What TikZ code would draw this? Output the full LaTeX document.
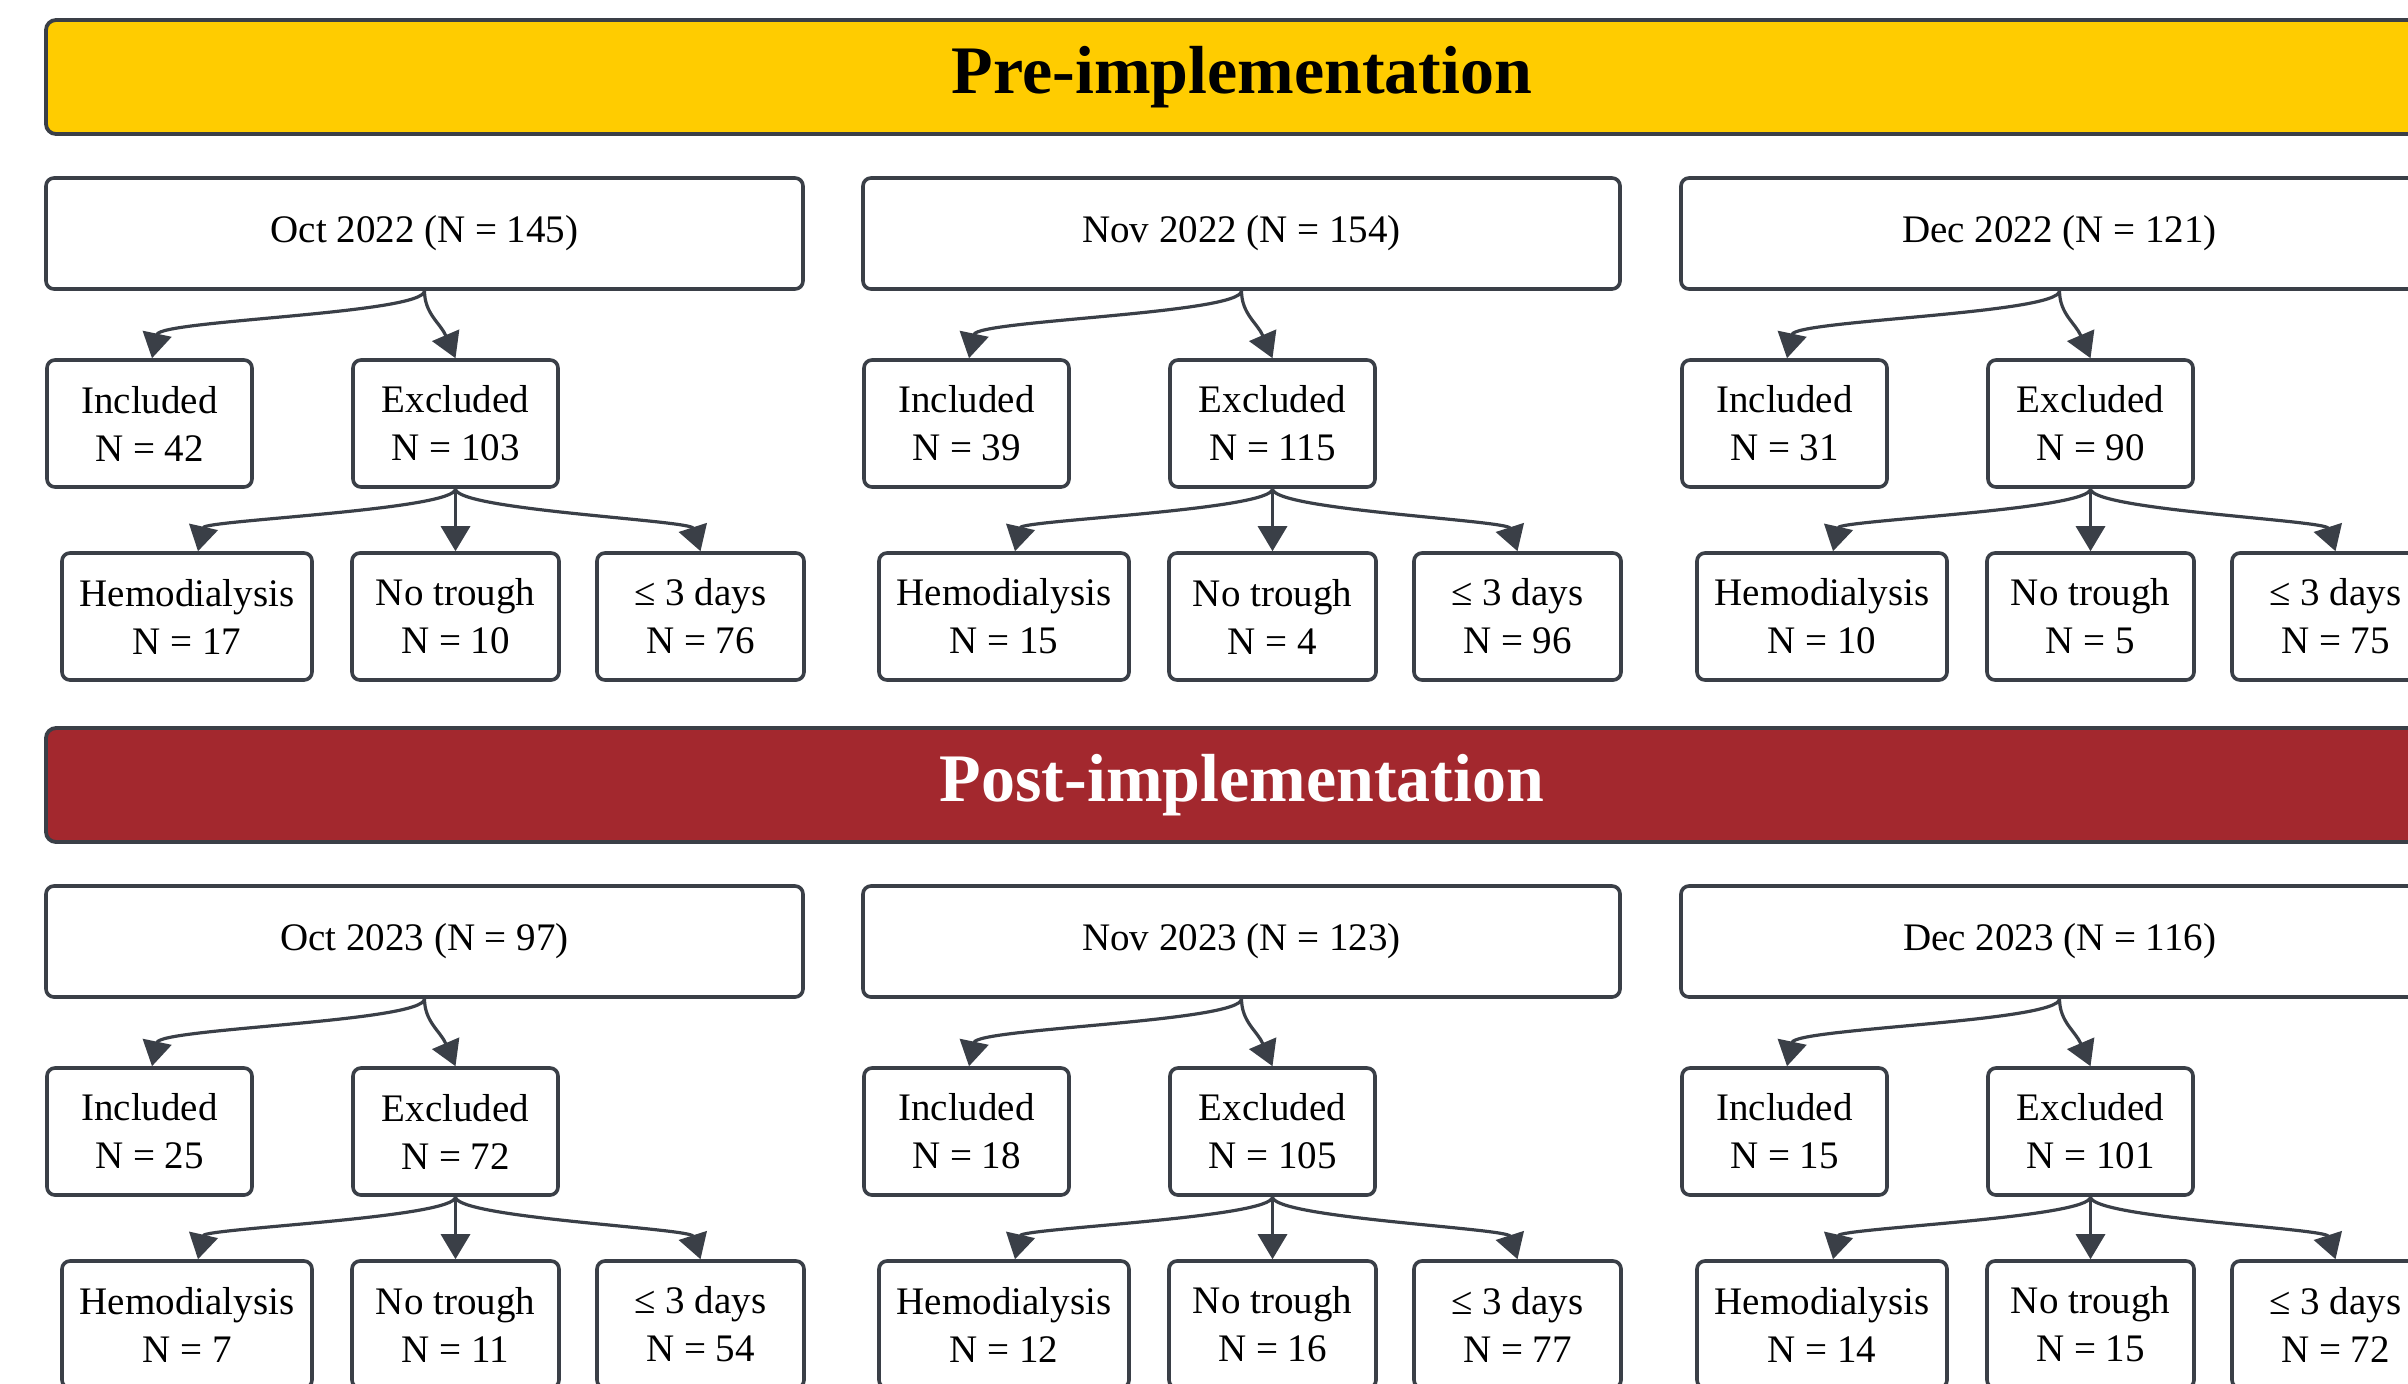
\documentclass[tikz,border=0pt]{standalone}
\usepackage{fontspec}
\setmainfont{Liberation Serif}
\usetikzlibrary{arrows.meta,calc}
\definecolor{edgecol}{HTML}{3A3F47}
\definecolor{preY}{HTML}{FFCC00}
\definecolor{postR}{HTML}{A3282E}
\tikzset{
  box/.style={draw=edgecol, line width=1.8pt, rounded corners=4pt, fill=white,
    align=center, inner sep=0pt, font=\fontsize{19.5}{24}\selectfont},
  monthbox/.style={box, minimum width=378.5pt, minimum height=55.5pt},
  smallbox/.style={box, minimum width=102.5pt, minimum height=63.5pt},
  widebox/.style={box, minimum width=125pt, minimum height=63.5pt},
  midbox/.style={box, minimum width=103.5pt, minimum height=63.5pt},
  bar/.style={draw=edgecol, line width=1.9pt, rounded corners=5pt,
    minimum width=1196pt, minimum height=57pt, inner sep=0pt,
    font=\fontsize{34}{38}\selectfont\bfseries},
  arr/.style={draw=edgecol, line width=1.6pt, -{Triangle[length=12.5pt,width=14.5pt]}}
}
\newcommand\flowcol[9]{%
  \begin{scope}[shift={(#2,#3)}]
    \node[monthbox] (#1m) at (424.5,233.5) {#4};
    \node[smallbox] (#1i) at (149.5,423.5) {Included\\N = #5};
    \node[smallbox] (#1e) at (455.5,423.5) {Excluded\\N = #6};
    \node[widebox]  (#1h) at (187,616.5) {Hemodialysis\\N = #7};
    \node[midbox]   (#1n) at (455.5,616.5) {No trough\\N = #8};
    \node[midbox]   (#1d) at (700.5,616.5) {≤ 3 days\\N = #9};
  \end{scope}
  \draw[arr] (#1m.south) .. controls +(0,23) and +(8,-38) .. ($(#1i.north)+(2.5,0)$);
  \draw[arr] (#1m.south) .. controls +(0,23) and +(-15,-35) .. (#1e.north);
  \draw[arr] (#1e.south) .. controls +(0,21) and +(7,-31) .. ($(#1h.north)+(11,0)$);
  \draw[arr] (#1e.south) -- (#1n.north);
  \draw[arr] (#1e.south) .. controls +(0,21) and +(-10,-31) .. (#1d.north);
}
\begin{document}
\begin{tikzpicture}[x=0.5pt,y=-0.5pt]
  \useasboundingbox (0,0) rectangle (2408,1383);
  \fill[white] (0,0) rectangle (2408,1383);
  \clip (0,0) rectangle (2408,1383);
  \node[bar, fill=preY, text=black] (pre) at (1242,77) {Pre-implementation};
  \node[bar, fill=postR, text=white] (post) at (1242,785) {Post-implementation};
  \flowcol{a}{0}{0}{Oct 2022 (N = 145)}{42}{103}{17}{10}{76}
  \flowcol{b}{817}{0}{Nov 2022 (N = 154)}{39}{115}{15}{4}{96}
  \flowcol{c}{1635}{0}{Dec 2022 (N = 121)}{31}{90}{10}{5}{75}
  \flowcol{d}{0}{708}{Oct 2023 (N = 97)}{25}{72}{7}{11}{54}
  \flowcol{e}{817}{708}{Nov 2023 (N = 123)}{18}{105}{12}{16}{77}
  \flowcol{f}{1635}{708}{Dec 2023 (N = 116)}{15}{101}{14}{15}{72}
\end{tikzpicture}
\end{document}
